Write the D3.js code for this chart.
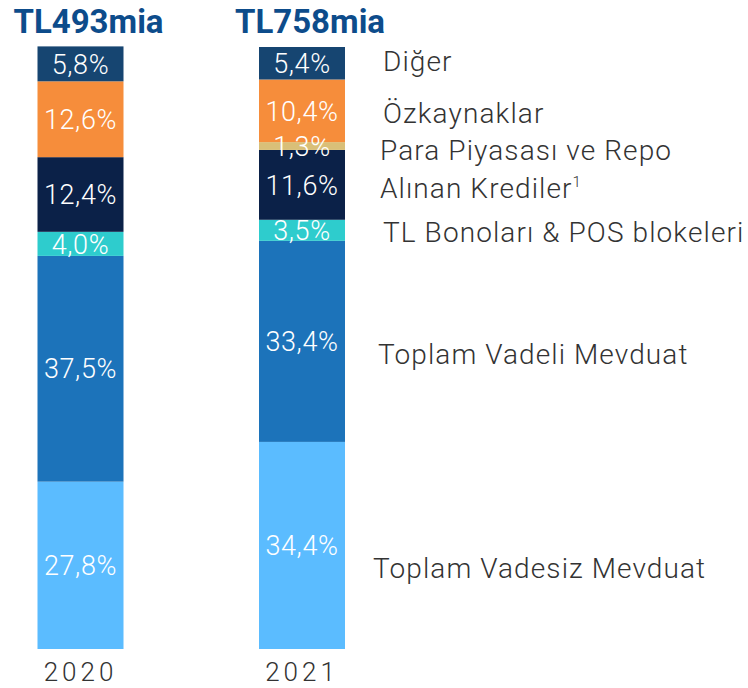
<!DOCTYPE html>
<html>
<head>
<meta charset="utf-8">
<script src="https://cdn.jsdelivr.net/npm/d3@7"></script>
<style>
  body { margin: 0; background: #fff; }
  text { font-family: Roboto, "Noto Sans", sans-serif; }
</style>
</head>
<body>
<div id="graph"></div>
<script>
var svgWidth = 748;
var svgHeight = 688;

// data, bottom segment first
var years = ["2020", "2021"];
var totals = ["TL493mia", "TL758mia"];
var categories = ["Toplam Vadesiz Mevduat", "Toplam Vadeli Mevduat", "TL Bonoları & POS blokeleri",
  "Alınan Krediler", "Para Piyasası ve Repo", "Özkaynaklar", "Diğer"];
var values2020 = [27.8, 37.5, 4.0, 12.4, 0, 12.6, 5.8];
var values2021 = [34.4, 33.4, 3.5, 11.6, 1.3, 10.4, 5.4];

var colors = ["#5bbcff", "#1c73ba", "#2ecccd", "#0b2148", "#d9bf78", "#f68d3b", "#164571"];

// legend tweaks (offset from 2021 segment middle, x position)
var legendDy = [22, 13, 2, 3, 4, 2, -2];
var legendX = [373, 378, 383, 380, 380, 383, 383];

var rows = years.map(function(y, i) {
  var vals = i === 0 ? values2020 : values2021;
  var r = { year: y };
  categories.forEach(function(c, j) { r[c] = vals[j]; });
  return r;
});

var stacked = d3.stack().keys(categories)(rows);

var yScale = d3.scaleLinear().domain([0, 100]).range([649, 47]);
var xScale = d3.scalePoint().domain(years).range([80.5, 302]);
var barWidth = 86;

var svg = d3.select("#graph").append("svg")
  .attr("width", svgWidth)
  .attr("height", svgHeight);

// bars
var layers = svg.append("g").selectAll("g.layer")
  .data(stacked)
  .enter().append("g")
  .attr("class", "layer")
  .attr("fill", function(d, i) { return colors[i]; });

layers.selectAll("rect")
  .data(function(d) { return d; })
  .enter().append("rect")
  .attr("x", function(d) { return xScale(d.data.year) - barWidth / 2; })
  .attr("y", function(d) { return yScale(d[1]); })
  .attr("width", barWidth)
  .attr("height", function(d) { return yScale(d[0]) - yScale(d[1]); });

// value labels, drawn after all bars so thin segments' labels stay on top
var segs = [];
stacked.forEach(function(s) {
  s.forEach(function(p) { if (p[1] - p[0] > 0) segs.push(p); });
});

svg.append("g").selectAll("text")
  .data(segs)
  .enter().append("text")
  .attr("x", function(d) { return xScale(d.data.year); })
  .attr("y", function(d) { return yScale((d[0] + d[1]) / 2); })
  .attr("dy", "0.36em")
  .attr("text-anchor", "middle")
  .attr("font-size", 27)
  .attr("font-weight", 300)
  .attr("letter-spacing", 0.6)
  .attr("fill", "#fff")
  .text(function(d) { return (d[1] - d[0]).toFixed(1).replace(".", ",") + "%"; });

// totals above bars
svg.selectAll("text.total")
  .data(years)
  .enter().append("text")
  .attr("class", "total")
  .attr("x", function(d) { return xScale(d) + 8; })
  .attr("y", 33)
  .attr("text-anchor", "middle")
  .attr("font-size", 33)
  .attr("font-weight", 700)
  .attr("fill", "#0d4c8b")
  .text(function(d, i) { return totals[i]; });

// year labels
svg.selectAll("text.year")
  .data(years)
  .enter().append("text")
  .attr("class", "year")
  .attr("x", function(d) { return xScale(d); })
  .attr("y", 681)
  .attr("text-anchor", "middle")
  .attr("font-size", 26)
  .attr("font-weight", 300)
  .attr("letter-spacing", 4)
  .attr("fill", "#333")
  .text(function(d) { return d; });

// legend on the right, next to 2021 segments
var last = stacked.map(function(s) { return s[1]; });
var legend = svg.selectAll("text.legend")
  .data(last)
  .enter().append("text")
  .attr("class", "legend")
  .attr("x", function(d, i) { return legendX[i]; })
  .attr("y", function(d, i) { return yScale((d[0] + d[1]) / 2) + legendDy[i]; })
  .attr("dy", "0.36em")
  .attr("font-size", 28)
  .attr("font-weight", 300)
  .attr("letter-spacing", 1.1)
  .attr("fill", "#333");

legend.append("tspan").text(function(d, i) { return categories[i]; });
legend.filter(function(d, i) { return categories[i] === "Alınan Krediler"; })
  .append("tspan")
  .attr("font-size", 15)
  .attr("dy", "-0.75em")
  .text("1");
</script>
</body>
</html>
